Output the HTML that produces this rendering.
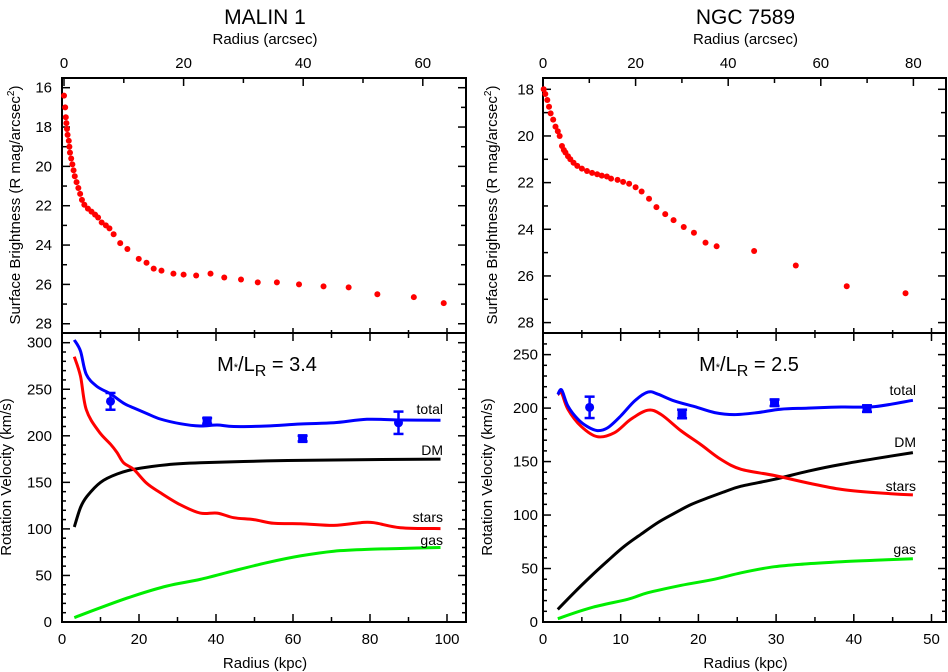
<!DOCTYPE html>
<html><head><meta charset="utf-8"><style>
html,body{margin:0;padding:0;background:#fff}
svg{display:block;font-family:"Liberation Sans",Helvetica,Arial,sans-serif}
</style></head><body>
<svg id="c" width="948" height="672" viewBox="0 0 948 672" xmlns="http://www.w3.org/2000/svg"></svg>
<script>
// ---- MALIN 1 surface brightness (arcsec, mag) ----
const m1SbR=[0,0.2,0.3,0.4,0.5,0.6,0.8,0.9,1.0,1.2,1.4,1.6,1.8,2.1,2.4,2.7,3.0,3.4,4.0,4.6,5.2,5.7,6.3,7.0,7.6,8.3,9.4,10.6,12.5,13.8,15.0,16.3,18.3,20.0,22.1,24.5,26.8,29.6,32.4,35.6,39.3,43.4,47.6,52.4,58.5,63.5];
const m1SbMag=[16.4,17.0,17.5,17.8,18.1,18.4,18.7,19.0,19.3,19.6,19.9,20.2,20.5,20.8,21.1,21.4,21.7,21.95,22.15,22.3,22.45,22.6,22.85,23.0,23.15,23.45,23.9,24.2,24.7,24.9,25.2,25.3,25.45,25.5,25.55,25.45,25.65,25.75,25.9,25.9,26.0,26.1,26.15,26.5,26.65,26.95];
// ---- MALIN 1 rotation curves (kpc, km/s) ----
const m1TotR=[3.2,4.8,6.3,9.1,12.6,16,18.6,22,25.5,30.7,35.9,40.3,44.6,53.2,61.9,70.6,79.2,87.9,98.3];
const m1TotV=[303,291,266,253,245,235,230,224,218,213,210.5,211.6,210,210.5,212.7,214,217.7,217,216.6];
const m1StarR=[3.2,4.8,6.3,9.5,12.6,14.3,16,18.6,22,25.5,30.7,35.9,40.3,44.6,49.8,55,61.9,70.6,77.5,81,87.9,98.3];
const m1StarV=[285,264,228,205,191,182,171,164,149,139,126,117,117,112,110,106,105.6,103.8,106.7,106.7,101.3,100.3];
const m1DmR=[3.2,4.8,6.5,10,14.3,18.6,27.3,35.9,53.2,70.6,98.3];
const m1DmV=[102,123,135,150,159,164,169,171,173,174,175];
const m1GasR=[3.2,10,18.6,27.3,35.9,44.6,53.2,61.9,70.6,79.2,87.9,98.3];
const m1GasV=[4.7,15.4,28,38.7,45.8,55,63.7,71,76,78,79,80];
const m1ObsR=[12.6,37.7,62.5,87.4];
const m1ObsV=[237,216,197,214];
const m1ObsErr=[9,3,3,12];
// ---- NGC 7589 surface brightness ----
const n7SbR=[0.15,0.5,0.93,1.3,1.65,2.2,2.7,3.2,3.6,4.1,4.5,4.85,5.4,5.9,6.6,7.4,8.4,9.5,10.6,11.7,12.7,13.8,14.7,16.1,17.3,18.6,20,21.3,22.9,24.5,26.4,28.2,30.4,32.6,35.1,37.5,45.6,54.6,65.6,78.3];
const n7SbMag=[18.0,18.2,18.46,18.75,19.03,19.3,19.6,19.8,20.0,20.43,20.6,20.71,20.87,21.0,21.15,21.28,21.4,21.5,21.58,21.64,21.7,21.74,21.83,21.88,21.97,22.05,22.2,22.38,22.69,23.05,23.35,23.61,23.9,24.15,24.57,24.73,24.93,25.55,26.44,26.74];
// ---- NGC 7589 rotation curves ----
const n7TotR=[1.9,2.4,3.2,4.5,5.7,7,8.3,10,11.8,13.5,14.8,16.9,19.5,22.1,24.6,27.6,30.6,34.1,38.4,42.7,47.6];
const n7TotV=[212.6,217,202,189.5,182.7,179,181.5,192.6,206.7,215,213,206.7,201.4,195.8,193.9,195.8,199,200,201,201.4,207.3];
const n7StarR=[1.9,2.4,3.2,4.9,7,9.2,11.3,13.5,15.2,17.8,20.3,22.9,25.5,29.8,34.1,38.4,42.7,47.6];
const n7StarV=[212.6,214,199,183,173.3,177,189.5,198,194,178.6,166,152,142.8,137,130,124,121,118.8];
const n7DmR=[1.9,4,6.2,8.3,10.5,12.6,14.8,16.9,19.1,21.2,23.3,25.5,29.8,34.1,38.4,42.7,47.6];
const n7DmV=[11.8,27.4,43,57,71,82,93,101.6,110,116,121.6,127,133.4,141,147.4,152.7,158.4];
const n7GasR=[1.9,6.2,10.9,13.5,17.8,22.1,25.5,29.8,34.1,38.4,42.7,47.6];
const n7GasV=[3.1,13.4,21.2,27.4,34.3,40,46,51.7,54.5,56.4,57.7,59.2];
const n7ObsR=[6.0,17.9,29.8,41.7];
const n7ObsV=[200.7,194.5,205,199.5];
const n7ObsErr=[10,4,3,3];

const NS="http://www.w3.org/2000/svg";
const svg=document.getElementById('c');
function mk(tag,attrs,parent){const e=document.createElementNS(NS,tag);for(const k in attrs)e.setAttribute(k,attrs[k]);(parent||svg).appendChild(e);return e;}
function txt(s,x,y,size,anchor,parent,rot){const t=mk('text',{x:x,y:y,'font-size':size,'text-anchor':anchor||'middle',fill:'#000'},parent);if(rot)t.setAttribute('transform','rotate(-90 '+x+' '+y+')');t.textContent=s;return t;}
function smooth(pts){let d='M'+pts[0][0].toFixed(1)+','+pts[0][1].toFixed(1);
  for(let i=0;i<pts.length-1;i++){const p0=pts[Math.max(0,i-1)],p1=pts[i],p2=pts[i+1],p3=pts[Math.min(pts.length-1,i+2)];
    const c1x=p1[0]+(p2[0]-p0[0])/6,c1y=p1[1]+(p2[1]-p0[1])/6,c2x=p2[0]-(p3[0]-p1[0])/6,c2y=p2[1]-(p3[1]-p1[1])/6;
    d+=' C'+c1x.toFixed(1)+','+c1y.toFixed(1)+' '+c2x.toFixed(1)+','+c2y.toFixed(1)+' '+p2[0].toFixed(1)+','+p2[1].toFixed(1);}
  return d;}

function panel(o){
  const g=mk('g',{});
  
  
  const L=o.L,R=o.R,T=78,D=333,B=622;
  const sx=v=>o.sx0+v*o.sxk;
  const sy=m=>o.sy0+(m-o.symin)*o.syk;
  const kx=v=>L+v*o.kxk;
  const vy=v=>B-v*o.vyk;
  const ti=txt(o.title,(L+R)/2+1,24,21,'middle',g);
  
  
  const at=txt('Radius (arcsec)',(L+R)/2+1,44,15,'middle',g);
  
  
  const f1=mk('rect',{x:L,y:T,width:R-L,height:D-T,fill:'none',stroke:'#000','stroke-width':2},g);
  
  
  const f2=mk('rect',{x:L,y:D,width:R-L,height:B-D,fill:'none',stroke:'#000','stroke-width':2},g);
  
  
  for(let a=0;a<=o.amax;a+=10){const x=sx(a);if(x<L||x>R)continue;const maj=a%20===0;
    mk('line',{x1:x,y1:T,x2:x,y2:T+(maj?8:5),stroke:'#000','stroke-width':1.5},g);
    if(maj){const t=txt(String(a),x,68,15,'middle',g);}}
  for(let m=o.symin-1;m<=28.5;m+=1){const y=sy(m);if(y<T+2||y>D-2)continue;const maj=(m%2===0);
    mk('line',{x1:L,y1:y,x2:L+(maj?8:5),y2:y,stroke:'#000','stroke-width':1.5},g);
    mk('line',{x1:R,y1:y,x2:R-(maj?8:5),y2:y,stroke:'#000','stroke-width':1.5},g);
    if(maj){const t=txt(String(m),o.ylab,y+5,15,'end',g);}}
  for(let k=0;k<=o.kmax;k+=o.kstep/2){const x=kx(k);if(x>R)continue;const maj=Math.abs(k/o.kstep-Math.round(k/o.kstep))<1e-6;
    mk('line',{x1:x,y1:B,x2:x,y2:B-(maj?8:5),stroke:'#000','stroke-width':1.5},g);
    mk('line',{x1:x,y1:D-(maj?5:3),x2:x,y2:D+(maj?8:5),stroke:'#000','stroke-width':1.5},g);
    if(maj){const t=txt(String(k),x,644,15,'middle',g);}}
  for(let v=0;v<=o.vmax;v+=10){const y=vy(v);if(y<D+2)continue;const maj=v%50===0;
    mk('line',{x1:L,y1:y,x2:L+(maj?8:4),y2:y,stroke:'#000','stroke-width':1.5},g);
    mk('line',{x1:R,y1:y,x2:R-(maj?8:4),y2:y,stroke:'#000','stroke-width':1.5},g);
    if(maj){const t=txt(String(v),o.vlab,y+5,15,'end',g);}}
  const st=txt('',o.sbTitleX,205,15,'middle',g,true);
  st.innerHTML='Surface Brightness (R mag/arcsec<tspan dy="-6" font-size="10">2</tspan><tspan dy="6">)</tspan>';
  
  const rt=txt('Rotation Velocity (km/s)',o.rvTitleX,477,15,'middle',g,true);
  
  const bt=txt('Radius (kpc)',(L+R)/2+1,668,15,'middle',g);
  
  for(let i=0;i<o.sbR.length;i++){const c=mk('circle',{cx:sx(o.sbR[i]),cy:sy(o.sbMag[i]),r:3,fill:'#f00'},g);
    }
  const curve=(rs,vs,col,name)=>{const pts=rs.map((r,i)=>[kx(r),vy(vs[i])]);
    const e=mk('path',{d:smooth(pts),fill:'none',stroke:col,'stroke-width':3,'stroke-linejoin':'round'},g);
    };
  curve(o.gasR,o.gasV,'#0e0','gas-curve');
  curve(o.dmR,o.dmV,'#000','dm-curve');
  curve(o.starR,o.starV,'#f00','stars-curve');
  curve(o.totR,o.totV,'#00f','total-curve');
  for(let i=0;i<o.obsR.length;i++){const x=kx(o.obsR[i]),y=vy(o.obsV[i]),e=o.obsErr[i];
    const og=mk('g',{},g);
    const y1=vy(o.obsV[i]+e),y2=vy(o.obsV[i]-e);
    mk('line',{x1:x,y1:y1,x2:x,y2:y2,stroke:'#00f','stroke-width':2.5},og);
    mk('line',{x1:x-5,y1:y1,x2:x+5,y2:y1,stroke:'#00f','stroke-width':2.5},og);
    mk('line',{x1:x-5,y1:y2,x2:x+5,y2:y2,stroke:'#00f','stroke-width':2.5},og);
    if(e>6)mk('circle',{cx:x,cy:y,r:4.5,fill:'#00f'},og);
    else mk('rect',{x:x-4.5,y:y-4.5,width:9,height:9,fill:'#00f'},og);}
  const lb=(s,y,n)=>{const t=txt(s,o.labX,y,14,'end',g);};
  lb('total',o.labY[0],'total-label');lb('DM',o.labY[1],'dm-label');lb('stars',o.labY[2],'stars-label');lb('gas',o.labY[3],'gas-label');
  const an=txt('',o.annX,371,20,'middle',g);
  an.innerHTML='M<tspan font-size="11">*</tspan>/L<tspan dy="5" font-size="16">R</tspan><tspan dy="-5"> = '+o.ml+'</tspan>';
  
}

panel({name:'malin-1',title:'MALIN 1',L:62,R:466,sx0:64,sxk:5.98,amax:65,sy0:87.7,symin:16,syk:19.67,ylab:52,
  kxk:3.85,kmax:100,kstep:20,vyk:0.931,vmax:300,vlab:52,sbTitleX:20,rvTitleX:11,
  sbR:m1SbR,sbMag:m1SbMag,totR:m1TotR,totV:m1TotV,starR:m1StarR,starV:m1StarV,dmR:m1DmR,dmV:m1DmV,gasR:m1GasR,gasV:m1GasV,
  obsR:m1ObsR,obsV:m1ObsV,obsErr:m1ObsErr,labX:443,labY:[414,455,522,545],annX:267,ml:'3.4'});
panel({name:'ngc-7589',title:'NGC 7589',L:543,R:946,sx0:543,sxk:4.63,amax:85,sy0:89.3,symin:18,syk:23.33,ylab:534,
  kxk:7.77,kmax:50,kstep:10,vyk:1.0695,vmax:260,vlab:538,sbTitleX:497,rvTitleX:492,
  sbR:n7SbR,sbMag:n7SbMag,totR:n7TotR,totV:n7TotV,starR:n7StarR,starV:n7StarV,dmR:n7DmR,dmV:n7DmV,gasR:n7GasR,gasV:n7GasV,
  obsR:n7ObsR,obsV:n7ObsV,obsErr:n7ObsErr,labX:916,labY:[395,447,491,554],annX:749,ml:'2.5'});
</script>
</body></html>
